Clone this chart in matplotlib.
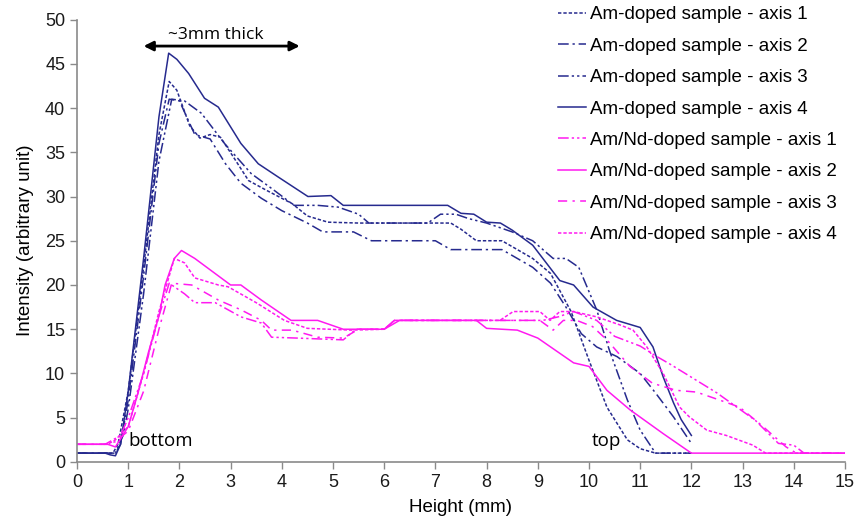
import matplotlib
matplotlib.use("Agg")
import matplotlib.pyplot as plt

plt.rcParams["font.family"] = ["Liberation Sans", "DejaVu Sans"]

# Am-doped sample (navy)
am1_x = [0, 0.55, 0.7, 0.8, 1.0, 1.3, 1.6, 1.8, 1.95, 2.2, 2.4, 2.6, 2.8, 3.05, 3.35,
         3.7, 4.2, 4.5, 4.9, 5.5, 6.5, 7.3, 7.5, 7.8, 8.3, 8.6, 8.9, 9.25, 9.65, 10.0,
         10.35, 10.75, 11.0, 11.3, 12.0]
am1_y = [1, 1, 1, 2, 8, 22, 37, 43, 42, 38, 36.6, 37, 36.7, 34.5, 31.8,
         30.7, 29.2, 27.8, 27.1, 27, 27, 27, 26.3, 25, 25, 24, 23, 21.3, 17, 11.5,
         6.2, 2.5, 1.5, 1, 1]

am2_x = [0, 0.6, 0.75, 0.85, 1.0, 1.3, 1.6, 1.8, 2.0, 2.3, 2.6, 2.9, 3.2, 3.6, 4.0,
         4.5, 4.8, 5.4, 5.75, 7.0, 7.3, 8.3, 8.6, 8.9, 9.25, 9.55, 9.85, 10.15, 10.55,
         11.0, 11.3, 11.65, 12.0]
am2_y = [1, 1, 1, 2, 7, 21, 36, 41, 40.8, 37, 36.5, 33.7, 31.5, 29.8, 28.4,
         27, 26, 26, 25, 25, 24, 24, 23, 22, 20.2, 17.5, 14.5, 13, 11.9,
         10, 7.8, 5.1, 2.1]

am3_x = [0, 0.6, 0.75, 0.9, 1.0, 1.3, 1.6, 1.85, 2.1, 2.43, 2.88, 3.4, 3.85, 4.24, 4.7,
         5.1, 5.5, 5.7, 6.85, 7.1, 7.4, 7.65, 8.0, 8.5, 8.9, 9.3, 9.55, 9.8, 10.15,
         10.4, 10.75, 11.0, 11.3, 12.0]
am3_y = [1, 1, 1, 3, 6, 19, 34, 41, 40.8, 39.4, 36, 32.6, 30.7, 29, 29,
         28.8, 28, 27, 27, 28, 28, 27.5, 27, 26, 25, 23, 23, 22, 17.2,
         12.6, 7, 3.6, 1, 1]

am4_x = [0, 0.55, 0.65, 0.75, 0.85, 1.0, 1.3, 1.6, 1.79, 1.95, 2.18, 2.49, 2.76, 3.2,
         3.54, 3.93, 4.51, 4.96, 5.2, 5.5, 7.24, 7.5, 7.75, 8.0, 8.27, 8.5, 8.9, 9.43,
         9.7, 10.08, 10.54, 11.0, 11.25, 11.45, 11.65, 11.8, 12.0]
am4_y = [1, 1, 0.8, 0.7, 2, 8, 23, 39, 46.2, 45.5, 43.9, 41.1, 40.1, 36,
         33.7, 32.2, 30, 30.1, 29, 29, 29, 28.1, 28, 27.1, 27, 26.2, 24.5, 20.5,
         20, 17.5, 16, 15.2, 13, 9.6, 6.7, 4.8, 3.0]

# Am/Nd-doped sample (magenta)
nd1_x = [0, 0.55, 0.7, 0.85, 1.0, 1.3, 1.6, 1.8, 2.1, 2.3, 2.7, 3.2, 3.6, 3.8, 4.3,
         5.2, 5.45, 6.0, 6.2, 8.3, 8.6, 9.1, 9.4, 9.7, 10.15, 10.5, 11.0, 11.3, 11.6,
         12.5, 13.25, 13.7, 14.0, 14.2, 15.0]
nd1_y = [2, 2, 2.5, 3, 5, 10, 16.5, 20.2, 19, 18, 18, 16.4, 15.7, 14.1, 14,
         13.8, 15, 15, 16, 16, 16, 16, 16.4, 17, 16, 14.2, 13.1, 12, 11,
         7.8, 4.7, 2.1, 1.9, 1, 1]

nd2_x = [0, 0.6, 0.75, 1.0, 1.2, 1.4, 1.6, 1.72, 1.9, 2.04, 2.3, 2.65, 3.0, 3.2, 3.6,
         4.18, 4.7, 5.2, 6.0, 6.3, 7.8, 8.0, 8.6, 9.0, 9.25, 9.7, 10.0, 10.35, 10.8,
         11.45, 12.0, 15.0]
nd2_y = [2, 2, 1.7, 4, 8, 12.5, 16.5, 20, 23, 23.9, 23, 21.5, 20, 20, 18.3,
         16, 16, 15, 15, 16, 16, 15.1, 14.9, 14, 13, 11.2, 10.8, 8.1, 5.9,
         3.2, 1, 1]

nd3_x = [0, 0.6, 0.75, 1.0, 1.3, 1.6, 1.85, 2.24, 2.76, 3.2, 3.6, 3.8, 4.2, 4.7, 5.2,
         5.5, 6.0, 6.2, 8.6, 9.04, 9.3, 9.5, 9.76, 10.07, 10.35, 10.8, 11.24, 11.7,
         12.1, 12.55, 12.94, 13.4, 13.85, 14.05, 15.0]
nd3_y = [2, 2, 2.3, 3.5, 8, 15, 20.2, 20, 18.3, 17.2, 16, 14.9, 14.9, 14.1, 14,
         15, 15, 16, 16, 16, 14.9, 16, 16, 15.3, 13.8, 10.8, 8.9, 8.1,
         7.9, 7, 6.2, 4, 1.7, 1, 1]

nd4_x = [0, 0.6, 0.75, 1.0, 1.3, 1.6, 1.9, 2.1, 2.3, 2.76, 2.95, 3.5, 4.05, 4.5, 5.35,
         6.0, 6.2, 8.26, 8.52, 9.04, 9.24, 9.43, 9.7, 10.15, 10.6, 10.86, 11.13, 11.45,
         11.77, 11.96, 12.3, 12.68, 13.2, 13.45, 15.0]
nd4_y = [2, 2, 2.5, 4, 10, 17, 23, 22.5, 20.8, 20, 19.8, 18, 16, 15.1, 14.9,
         15, 16, 16, 17, 17, 16, 17, 17, 16.4, 15.5, 14.9, 13, 10,
         6.2, 5.1, 3.6, 3, 1.9, 1, 1]

navy = "#262A8E"
magenta = "#FF1AF0"
dots = (0, (2.2, 1.3))
dash_dot = (0, (7, 2.5, 1.5, 2.5))
dash_dot_dot = (0, (7, 2, 1.5, 2, 1.5, 2))
dash_dot_nd = (0, (6, 3.5, 1.5, 3.5))

series = [
    (am1_x, am1_y, navy, dots, "Am-doped sample - axis 1"),
    (am2_x, am2_y, navy, dash_dot, "Am-doped sample - axis 2"),
    (am3_x, am3_y, navy, dash_dot_dot, "Am-doped sample - axis 3"),
    (am4_x, am4_y, navy, "-", "Am-doped sample - axis 4"),
    (nd1_x, nd1_y, magenta, dash_dot_dot, "Am/Nd-doped sample - axis 1"),
    (nd2_x, nd2_y, magenta, "-", "Am/Nd-doped sample - axis 2"),
    (nd3_x, nd3_y, magenta, dash_dot_nd, "Am/Nd-doped sample - axis 3"),
    (nd4_x, nd4_y, magenta, dots, "Am/Nd-doped sample - axis 4"),
]

fig = plt.figure(figsize=(8.56, 5.29), dpi=100, facecolor="white")
ax = fig.add_axes([0.09, 0.1267, 0.8971, 0.8364])

for xs, ys, col, ls, lab in series:
    ax.plot(xs, ys, color=col, linestyle=ls, linewidth=1.1, label=lab)

ax.set_xlim(0, 15)
ax.set_ylim(0, 50)
ax.set_xticks(range(0, 16))
ax.set_yticks(range(0, 51, 5))
for side in ["top", "right"]:
    ax.spines[side].set_visible(False)
for side in ["left", "bottom"]:
    ax.spines[side].set_color("#8a8a8a")
    ax.spines[side].set_linewidth(1.2)
ax.tick_params(direction="out", length=5, width=1, color="#8a8a8a",
               labelsize=13, labelcolor="#1a1a1a")
ax.set_xlabel("Height (mm)", fontsize=13.5, labelpad=6)
ax.set_ylabel("Intensity (arbitrary unit)", fontsize=13.5, labelpad=8)

# annotations
ax.annotate("", xy=(1.3, 47), xytext=(4.35, 47),
            arrowprops=dict(arrowstyle="<|-|>", color="black", lw=2,
                            mutation_scale=14, shrinkA=0, shrinkB=0))
ax.text(2.7, 48.2, "~3mm thick", family="Open Sans", fontsize=12.5,
        ha="center", va="center")
ax.text(1.0, 1.8, "bottom", family="Open Sans", fontsize=13.5,
        ha="left", va="baseline")
ax.text(10.05, 1.8, "top", family="Open Sans", fontsize=13.5,
        ha="left", va="baseline")

fig.legend(loc="upper left", bbox_to_anchor=(0.652, 0.988), frameon=False,
           fontsize=13.5, handlelength=1.5, handletextpad=0.2,
           labelspacing=0.76, borderpad=0, borderaxespad=0)

fig.savefig("out.png", dpi=100, facecolor="white")
